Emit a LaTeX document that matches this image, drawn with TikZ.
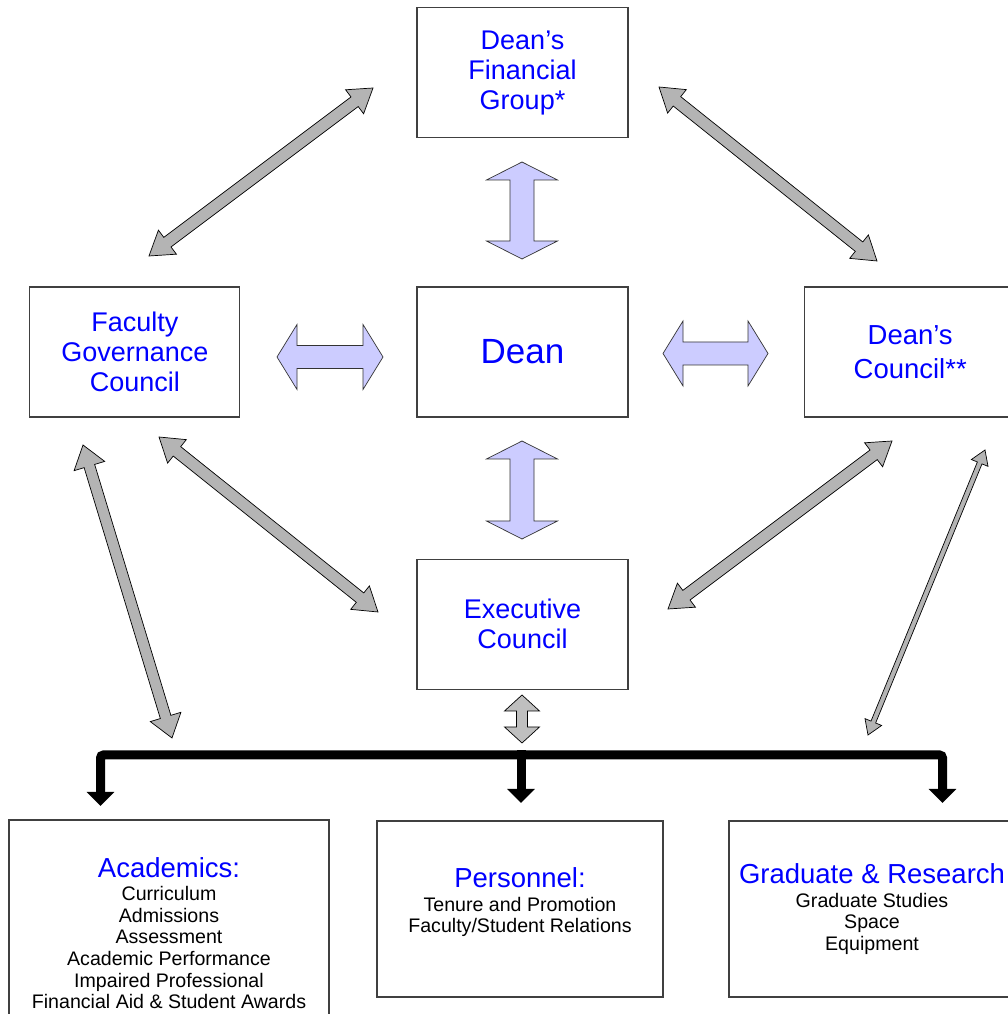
\documentclass[tikz,border=0pt]{standalone}
\usepackage{fontspec}
\setmainfont{Liberation Sans}
\usepackage{xcolor}
\usepackage{tikz}
\usetikzlibrary{calc, positioning, arrows.meta}

\definecolor{lilac}{HTML}{CCCCFF}
\definecolor{arrowgrey}{HTML}{B4B4B4}
\definecolor{boxline}{HTML}{404040}

% double headed block arrow between two tips
\newcommand{\dblarrow}[6][]{%
  \draw[#1] let \p1=($(#3)-(#2)$), \n1={atan2(\y1,\x1)} in
    (#2) -- ($(#2)+(\n1:#6)+(\n1+90:#5)$) -- ($(#2)+(\n1:#6)+(\n1+90:#4)$)
    -- ($(#3)-(\n1:#6)+(\n1+90:#4)$) -- ($(#3)-(\n1:#6)+(\n1+90:#5)$)
    -- (#3) -- ($(#3)-(\n1:#6)-(\n1+90:#5)$) -- ($(#3)-(\n1:#6)-(\n1+90:#4)$)
    -- ($(#2)+(\n1:#6)-(\n1+90:#4)$) -- ($(#2)+(\n1:#6)-(\n1+90:#5)$) -- cycle;}

\begin{document}
\begin{tikzpicture}[x=1pt,y=1pt,
                    box node/.style={rectangle,draw=boxline,line width=1.2pt,fill=white,minimum width=211pt,minimum height=130pt,inner sep=0pt,align=center,text=blue,font=\fontsize{27}{30}\selectfont},
                    unit node/.style={box node,minimum width=286pt,minimum height=176pt,text=black,font=\fontsize{19.6}{21.6}\selectfont},
                    grey arrow/.style={draw=black,line width=0.7pt,fill=arrowgrey},
                    lilac arrow/.style={draw=black!80,line width=0.7pt,fill=lilac},
                    bus/.style={line width=9pt,-{Triangle[width=27pt,length=14pt]}}]

  \useasboundingbox (0,0) rectangle (1008,1014);
  \clip (0,0) rectangle (1008,1014);
  \fill[white] (0,0) rectangle (1008,1014);

  \node[box node,font=\fontsize{35}{40}\selectfont] (1) at (522.5,662) {Dean};
  \node[box node] (2) [above=148pt of 1] {Dean’s\\Financial\\Group*};
  \node[box node,minimum width=210pt] (3) [left=176pt of 1] {Faculty\\Governance\\Council};
  \node[box node,minimum width=212pt,font=\fontsize{27.5}{34}\selectfont] (4) [right=175pt of 1] {Dean’s\\Council**};
  \node[box node] (5) [below=141pt of 1] {Executive\\Council};

  \node[unit node,minimum width=320pt,minimum height=226pt] (6) at (169,81)
    {{\fontsize{27.5}{30}\selectfont\color{blue}Academics:}\\[2pt]Curriculum\\Admissions\\Assessment\\Academic Performance\\Impaired Professional\\Financial Aid \& Student Awards};
  \node[unit node] (7) at (520,105)
    {{\fontsize{27.5}{30}\selectfont\color{blue}Personnel:}\\[2pt]Tenure and Promotion\\Faculty/Student Relations\\[-4pt]};
  \node[unit node] (8) at (872,105)
    {{\fontsize{27.5}{30}\selectfont\color{blue}Graduate \& Research}\\[2pt]Graduate Studies\\Space\\Equipment};

  % arrow tips
  \coordinate (2s) at (522,852);   \coordinate (1n) at (522,755);
  \coordinate (1s) at (522,573);   \coordinate (5n) at (522,475);
  \coordinate (3e) at (277,657);   \coordinate (1w) at (383,657);
  \coordinate (1e) at (663,660.5); \coordinate (4w) at (768,660.5);
  \coordinate (23a) at (373,926);  \coordinate (23b) at (149,758);
  \coordinate (24a) at (659,927);  \coordinate (24b) at (877,753);
  \coordinate (35a) at (159,577);  \coordinate (35b) at (378,402);
  \coordinate (45a) at (892,573);  \coordinate (45b) at (668,405);
  \coordinate (36a) at (83,569);   \coordinate (36b) at (172,276);
  \coordinate (48a) at (985,564);  \coordinate (48b) at (868,279);
  \coordinate (5b) at (522,319);   \coordinate (bus) at (522,271);

  \dblarrow[lilac arrow]{2s}{1n}{12pt}{35.5pt}{18pt}
  \dblarrow[lilac arrow]{1s}{5n}{12pt}{35.5pt}{18pt}
  \dblarrow[lilac arrow]{3e}{1w}{11.5pt}{32.5pt}{20pt}
  \dblarrow[lilac arrow]{1e}{4w}{11.5pt}{32.5pt}{20pt}

  \dblarrow[grey arrow]{23a}{23b}{6pt}{15pt}{23pt}
  \dblarrow[grey arrow]{24a}{24b}{6pt}{15pt}{23pt}
  \dblarrow[grey arrow]{35a}{35b}{6pt}{15pt}{23pt}
  \dblarrow[grey arrow]{45a}{45b}{6pt}{15pt}{23pt}
  \dblarrow[grey arrow]{36a}{36b}{5.5pt}{16pt}{22pt}
  \dblarrow[grey arrow]{48a}{48b}{2.5pt}{9pt}{14pt}
  \dblarrow[grey arrow,fill=arrowgrey!85!white]{5b}{bus}{5.5pt}{17.5pt}{16pt}

  % bus to the three units
  \coordinate (6t) at (100.5,208);
  \coordinate (7t) at (521,211);
  \coordinate (8t) at (942.5,211);
  \coordinate (mid) at (521,259);
  \draw[bus,{Triangle[width=27pt,length=14pt]}-{Triangle[width=27pt,length=14pt]},rounded corners=3pt]
    (6t) |- (mid) -| (8t);
  \draw[bus] ($(mid)+(0,4.5)$) -- (7t);

\end{tikzpicture}
\end{document}
